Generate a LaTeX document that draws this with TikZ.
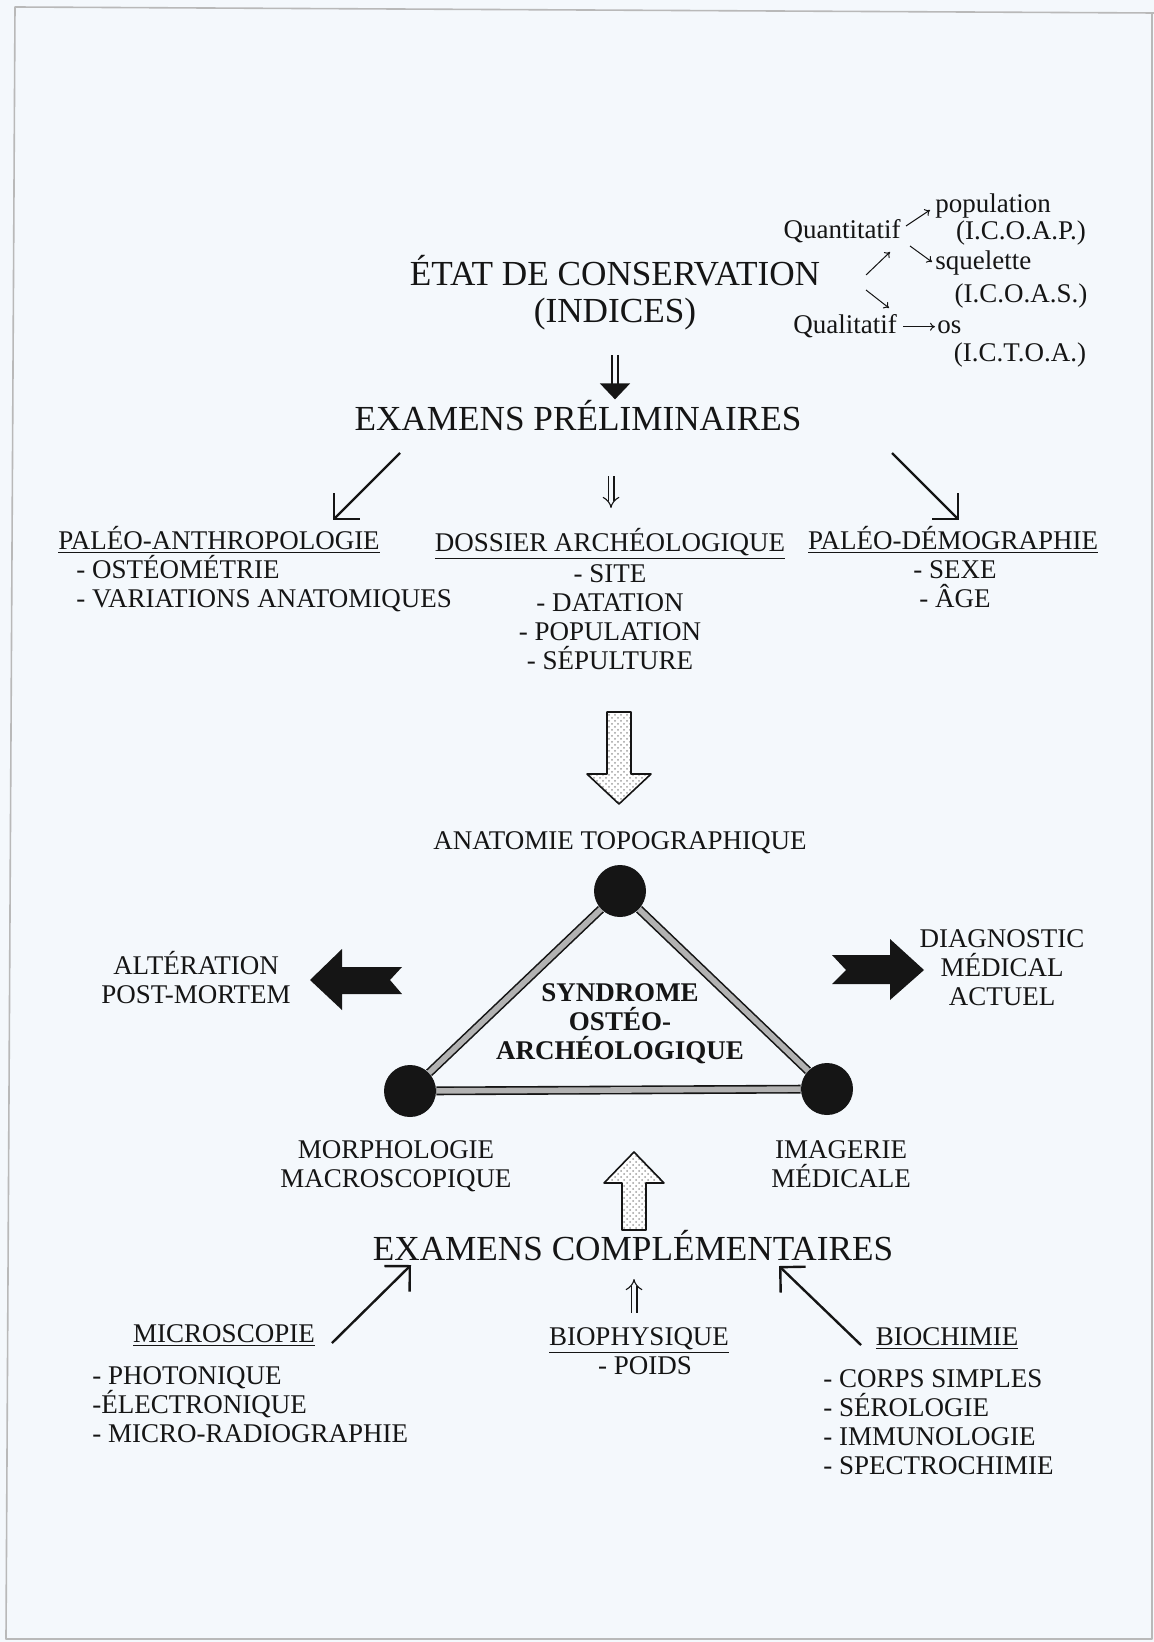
\documentclass[tikz,border=0pt]{standalone}
\usepackage{fontspec}
\setmainfont{Liberation Serif}
\usetikzlibrary{arrows.meta,patterns}
\definecolor{paper}{HTML}{F4F8FC}
\definecolor{ink}{HTML}{151515}

\begin{document}
\begin{tikzpicture}[x=0.5pt, y=-0.5pt, line join=round,
	big/.style={font=\fontsize{17.6}{18.5}\selectfont, inner sep=0pt, text=ink},
	txt/.style={font=\fontsize{13.5}{14.5}\selectfont, inner sep=0pt, text=ink},
	vtx/.style={circle, fill=ink, minimum size=26pt, inner sep=0pt},
	band/.style={draw=ink, line width=0.8pt, double=gray!60, double distance=2.8pt},
	diag/.style={draw=ink, line width=1.2pt, -{Straight Barb[length=9pt,width=18pt]}},
	fatdbl/.style={draw=ink, double=paper, line width=0.9pt, double distance=2.4pt, -{Triangle[length=8pt,width=15pt]}},
	thindbl/.style={draw=ink, double=paper, line width=0.55pt, double distance=2.4pt, -{Implies}},
	smallarr/.style={draw=ink, line width=0.5pt, -{To[length=2.5pt,width=4pt]}},
	hollow/.style={draw=ink, line width=0.8pt, preaction={fill=white}, pattern=crosshatch dots, pattern color=gray!75}]
	\useasboundingbox (0,0) rectangle (1154,1642);
	\fill[paper] (0,0) rectangle (1154,1642);
	\draw[gray!55, line width=0.8pt] (1154,13)--(15,7)--(6,1639)--(1152,1639)--(1152,13);
	% etat de conservation (base = last line)
	\node[big, align=center, anchor=base] (etat) at (615,323) {ÉTAT DE CONSERVATION\\(INDICES)};
	\node[txt, anchor=base] (quanti) at (842,239) {Quantitatif};
	\node[txt, anchor=base west] (popu) at (935,213) {population};
	\node[txt, anchor=base] (icoap) at (1021,240) {(I.C.O.A.P.)};
	\node[txt, anchor=base west] (squel) at (935,270) {squelette};
	\node[txt, anchor=base] (icoas) at (1021,303) {(I.C.O.A.S.)};
	\node[txt, anchor=base west] (quali) at (793,334) {Qualitatif};
	\node[txt, anchor=base west] (os) at (937,334) {os};
	\node[txt, anchor=base] (ictoa) at (1020,362) {(I.C.T.O.A.)};
	\coordinate (fk1) at (866,275); \coordinate (fk2) at (890,252);
	\coordinate (fk3) at (866,290); \coordinate (fk4) at (889,308);
	\coordinate (qp1) at (906,226); \coordinate (qp2) at (930,210);
	\coordinate (qs1) at (910,246); \coordinate (qs2) at (932,262);
	\draw[smallarr] (fk1)--(fk2);
	\draw[smallarr] (fk3)--(fk4);
	\draw[smallarr] (qp1)--(qp2);
	\draw[smallarr] (qs1)--(qs2);
	\draw[smallarr, shorten <=3pt, shorten >=1pt] (quali.east)--(quali.east -| os.west);
	% examens preliminaires
	\node[big, anchor=base] (prelim) at (578,430) {EXAMENS PRÉLIMINAIRES};
	\draw[fatdbl] ([yshift=-12pt]etat.south)--(prelim.north -| etat.south);
	\node[txt, anchor=base] (paleoA) at (219,549) {\underline{PALÉO-ANTHROPOLOGIE}};
	\node[txt, align=left, anchor=base west] (paleoAl) at (76,607) {- OSTÉOMÉTRIE\\- VARIATIONS ANATOMIQUES};
	\node[txt, anchor=base] (dossier) at (610,551) {\underline{DOSSIER ARCHÉOLOGIQUE}};
	\node[txt, align=center, anchor=base] (dossierl) at (610,669) {- SITE\\- DATATION\\- POPULATION\\- SÉPULTURE};
	\node[txt, anchor=base] (paleoD) at (953,549) {\underline{PALÉO-DÉMOGRAPHIE}};
	\node[txt, align=center, anchor=base] (paleoDl) at (955,607) {- SEXE\\- ÂGE};
	\coordinate (pl1) at (400,453); \coordinate (pl2) at (333,520);
	\coordinate (pc1) at (611,476); \coordinate (pc2) at (611,508);
	\coordinate (pr1) at (892,453); \coordinate (pr2) at (959,520);
	\draw[diag] (pl1)--(pl2);
	\draw[thindbl] (pc1)--(pc2);
	\draw[diag] (pr1)--(pr2);
	% grosse fleche vers le triangle
	\draw[hollow] (607,712)--(631,712)--(631,774)--(651,774)--(619,804)--(587,774)--(607,774)--cycle;
	% triangle
	\node[txt, anchor=base] (anat) at (620,849) {ANATOMIE TOPOGRAPHIQUE};
	\node[vtx] (vtop) at (620,891) {};
	\node[vtx] (vleft) at (410,1091) {};
	\node[vtx] (vright) at (827,1089) {};
	\draw[band] (vtop)--(vleft);
	\draw[band] (vleft)--(vright);
	\draw[band] (vright)--(vtop);
	\node[txt, font=\fontsize{13.5}{14.3}\selectfont\bfseries, align=center, anchor=base] (synd) at (620,1059) {SYNDROME\\OSTÉO-\\ARCHÉOLOGIQUE};
	\node[txt, align=center, anchor=base] (alter) at (196,1003) {ALTÉRATION\\POST-MORTEM};
	\node[txt, align=center, anchor=base] (diagn) at (1002,1005) {DIAGNOSTIC\\MÉDICAL\\ACTUEL};
	\node[txt, align=center, anchor=base] (morpho) at (396,1187) {MORPHOLOGIE\\MACROSCOPIQUE};
	\node[txt, align=center, anchor=base] (imag) at (841,1187) {IMAGERIE\\MÉDICALE};
	\fill[ink] (310,980)--(342,949)--(342,967)--(402,967)--(390,980)--(402,994)--(342,994)--(342,1010)--cycle;
	\fill[ink] (924,970)--(890,939)--(890,955)--(832,955)--(846,970)--(832,984)--(890,984)--(890,1000)--cycle;
	\draw[hollow] (622,1230)--(646,1230)--(646,1183)--(664,1183)--(634,1152)--(604,1183)--(622,1183)--cycle;
	% examens complementaires
	\node[big, anchor=base] (compl) at (633,1260) {EXAMENS COMPLÉMENTAIRES};
	\node[txt, anchor=base] (micro) at (224,1342) {\underline{MICROSCOPIE}};
	\node[txt, align=left, anchor=base west] (microl) at (92,1442) {- PHOTONIQUE\\-ÉLECTRONIQUE\\- MICRO-RADIOGRAPHIE};
	\node[txt, anchor=base] (bioph) at (639,1345) {\underline{BIOPHYSIQUE}};
	\node[txt, anchor=base] (poids) at (645,1374) {- POIDS};
	\node[txt, anchor=base] (bioch) at (947,1345) {\underline{BIOCHIMIE}};
	\node[txt, align=left, anchor=base west] (biochl) at (823,1474) {- CORPS SIMPLES\\- SÉROLOGIE\\- IMMUNOLOGIE\\- SPECTROCHIMIE};
	\coordinate (ml1) at (332,1343); \coordinate (ml2) at (411,1265);
	\coordinate (bc1) at (634,1313); \coordinate (bc2) at (634,1279);
	\coordinate (br1) at (861,1345); \coordinate (br2) at (779,1266);
	\draw[diag] (ml1)--(ml2);
	\draw[thindbl] (bc1)--(bc2);
	\draw[diag] (br1)--(br2);
\end{tikzpicture}
\end{document}
